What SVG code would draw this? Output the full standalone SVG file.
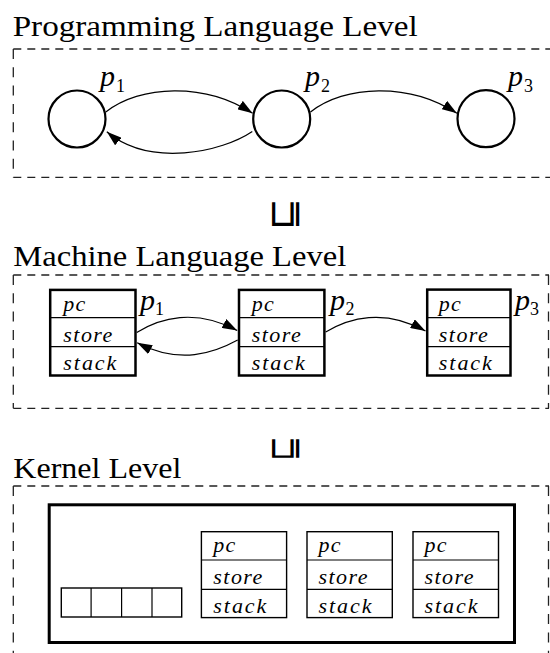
<svg xmlns="http://www.w3.org/2000/svg" width="550" height="653" viewBox="0 0 550 653">
<style>
.title{font-family:'Liberation Serif','DejaVu Serif',serif;font-size:30px;fill:#000}
.it{font-family:'Liberation Serif','DejaVu Serif',serif;font-style:italic;fill:#000}
.lbl{font-size:30px}
.sub{font-family:'Liberation Serif','DejaVu Serif',serif;font-size:18px;fill:#000}
.cell{font-size:22px}
.dh{stroke:#222;stroke-width:1.3;stroke-dasharray:8 6;fill:none}
.dv{stroke:#222;stroke-width:1.3;stroke-dasharray:10 8.3;fill:none}
.circ{fill:#fff;stroke:#000;stroke-width:2.2}
.mbox{fill:#fff;stroke:#000;stroke-width:2.5}
.kbox{fill:#fff;stroke:#000;stroke-width:1.4}
.div{stroke:#000;stroke-width:1.2;fill:none}
.edge{fill:none;stroke:#000;stroke-width:1.2;marker-end:url(#ah)}
.rel{font-family:'DejaVu Sans',sans-serif;font-size:38px;font-weight:200;fill:#000}
</style>
<defs>
<marker id="ah" viewBox="0 0 15 10" refX="15" refY="5" markerWidth="15" markerHeight="10" markerUnits="userSpaceOnUse" orient="auto">
<path d="M0,0 L15,5 L0,10 z" fill="#000"/>
</marker>
</defs>

<g id="level-programming">
<text class="title" x="12.7" y="36" textLength="405" lengthAdjust="spacingAndGlyphs">Programming Language Level</text>
<line class="dh" x1="13.3" y1="49" x2="560" y2="49"/>
<line class="dh" x1="13.3" y1="177.3" x2="560" y2="177.3"/>
<line class="dv" x1="13.3" y1="49" x2="13.3" y2="177.3"/>
</g>
<g id="level-machine">
<text class="title" x="13.3" y="266" textLength="333" lengthAdjust="spacingAndGlyphs">Machine Language Level</text>
<line class="dh" x1="13.3" y1="275" x2="549" y2="275"/>
<line class="dh" x1="13.3" y1="408.3" x2="549" y2="408.3"/>
<line class="dv" x1="13.3" y1="275" x2="13.3" y2="408.3"/>
<line class="dv" x1="548.5" y1="275" x2="548.5" y2="408.3"/>
</g>
<g id="level-kernel">
<text class="title" x="13.3" y="478.3" textLength="168" lengthAdjust="spacingAndGlyphs">Kernel Level</text>
<line class="dh" x1="13.3" y1="486" x2="549" y2="486"/>
<line class="dv" x1="13.3" y1="486" x2="13.3" y2="660"/>
<line class="dv" x1="548.5" y1="486" x2="548.5" y2="660"/>
</g>

<g id="refine-1">
<text class="rel" transform="translate(283.5,213.5) rotate(-90)" x="0" y="12.5" text-anchor="middle">⊑</text>
</g>
<g id="refine-2">
<text class="rel" transform="translate(283.5,449) scale(1,0.78) rotate(-90)" x="0" y="12.5" text-anchor="middle">⊑</text>
</g>

<g id="connectors">
<path class="edge" d="M105.8,112 C140,85 205,82 252.6,113.3"/>
<path class="edge" d="M252.3,131.5 C222,152 150,168 106.8,131.8"/>
<path class="edge" d="M310.5,112 C344.5,85 409.5,82 456.9,113.3"/>
<path class="edge" d="M136.7,332.5 C160,318 195,308 237.2,330.5"/>
<path class="edge" d="M237.7,340 C214,353 180,365 137.2,342.7"/>
<path class="edge" d="M325.7,332 C349,318 384,308 425.5,331"/>
</g>

<g id="p1-prog">
<circle class="circ" cx="77" cy="119" r="28.5"/>
<text class="it lbl" x="100" y="86">p</text><text class="sub" x="116" y="92">1</text>
</g>
<g id="p2-prog">
<circle class="circ" cx="281.7" cy="119" r="28.5"/>
<text class="it lbl" x="305" y="86">p</text><text class="sub" x="321" y="92">2</text>
</g>
<g id="p3-prog">
<circle class="circ" cx="486" cy="118.7" r="28.5"/>
<text class="it lbl" x="508" y="86">p</text><text class="sub" x="524" y="92">3</text>
</g>

<g id="p1-mach">
<rect class="mbox" x="50.2" y="289.9" width="85.3" height="85.6"/>
<line class="div" x1="50.2" y1="317.7" x2="135.5" y2="317.7"/>
<line class="div" x1="50.2" y1="346.7" x2="135.5" y2="346.7"/>
<text class="it cell" x="63.3" y="310.5" textLength="22">pc</text>
<text class="it cell" x="63.3" y="341.7" textLength="49">store</text>
<text class="it cell" x="63.3" y="370" textLength="53">stack</text>
<text class="it lbl" x="140" y="310">p</text><text class="sub" x="155" y="315">1</text>
</g>
<g id="p2-mach">
<rect class="mbox" x="239" y="289.9" width="85.4" height="85.6"/>
<line class="div" x1="239" y1="317.7" x2="324.4" y2="317.7"/>
<line class="div" x1="239" y1="346.7" x2="324.4" y2="346.7"/>
<text class="it cell" x="251.7" y="310.5" textLength="22">pc</text>
<text class="it cell" x="251.7" y="341.7" textLength="49">store</text>
<text class="it cell" x="251.7" y="370" textLength="53">stack</text>
<text class="it lbl" x="330" y="310">p</text><text class="sub" x="345.5" y="315">2</text>
</g>
<g id="p3-mach">
<rect class="mbox" x="427.2" y="289.6" width="83.3" height="85.9"/>
<line class="div" x1="427.2" y1="317.7" x2="510.5" y2="317.7"/>
<line class="div" x1="427.2" y1="346.7" x2="510.5" y2="346.7"/>
<text class="it cell" x="438.8" y="310.5" textLength="22">pc</text>
<text class="it cell" x="438.8" y="341.7" textLength="49">store</text>
<text class="it cell" x="438.8" y="370" textLength="53">stack</text>
<text class="it lbl" x="515" y="310">p</text><text class="sub" x="530" y="315">3</text>
</g>

<g id="kernel">
<rect x="49.2" y="504.8" width="465.3" height="137.7" fill="none" stroke="#000" stroke-width="3"/>
</g>
<g id="kernel-queue">
<rect class="kbox" x="61.3" y="588" width="120.4" height="29"/>
<line class="div" x1="91.1" y1="588" x2="91.1" y2="617"/>
<line class="div" x1="121.6" y1="588" x2="121.6" y2="617"/>
<line class="div" x1="152" y1="588" x2="152" y2="617"/>
</g>
<g id="k-rec1">
<rect class="kbox" x="201.4" y="531.7" width="85.2" height="85.9"/>
<line class="div" x1="201.4" y1="560" x2="286.6" y2="560"/>
<line class="div" x1="201.4" y1="589.3" x2="286.6" y2="589.3"/>
<text class="it cell" x="213.3" y="552" textLength="22">pc</text>
<text class="it cell" x="213.3" y="584" textLength="49">store</text>
<text class="it cell" x="213.3" y="612.7" textLength="53">stack</text>
</g>
<g id="k-rec2">
<rect class="kbox" x="307" y="531.7" width="85.3" height="85.9"/>
<line class="div" x1="307" y1="560" x2="392.3" y2="560"/>
<line class="div" x1="307" y1="589.3" x2="392.3" y2="589.3"/>
<text class="it cell" x="318.5" y="552" textLength="22">pc</text>
<text class="it cell" x="318.5" y="584" textLength="49">store</text>
<text class="it cell" x="318.5" y="612.7" textLength="53">stack</text>
</g>
<g id="k-rec3">
<rect class="kbox" x="413" y="531.7" width="85.5" height="85.9"/>
<line class="div" x1="413" y1="560" x2="498.5" y2="560"/>
<line class="div" x1="413" y1="589.3" x2="498.5" y2="589.3"/>
<text class="it cell" x="424.5" y="552" textLength="22">pc</text>
<text class="it cell" x="424.5" y="584" textLength="49">store</text>
<text class="it cell" x="424.5" y="612.7" textLength="53">stack</text>
</g>
</svg>
